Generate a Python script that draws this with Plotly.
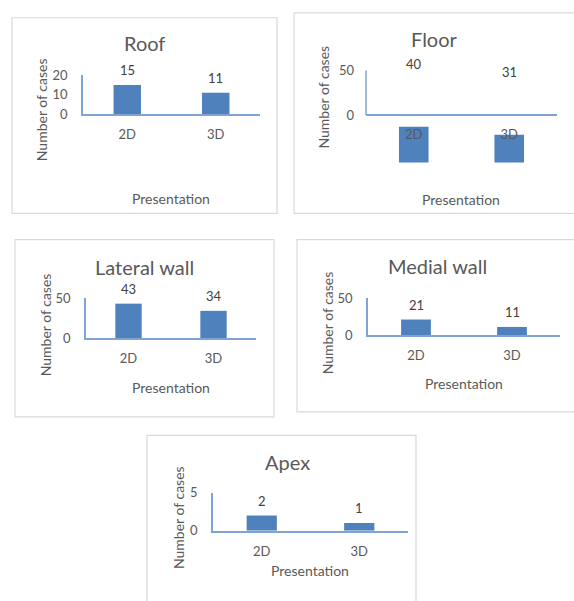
import plotly.graph_objects as go

# ---- data -------------------------------------------------------------
categories = ["2D", "3D"]
roof = [15, 11]
floor = [40, 31]
lateral_wall = [43, 34]
medial_wall = [21, 11]
apex = [2, 1]

panel_titles = ["Roof", "Floor", "Lateral wall", "Medial wall", "Apex"]
panel_values = [roof, floor, lateral_wall, medial_wall, apex]
y_ticks = [[0, 10, 20], [0, 50], [0, 50], [0, 50], [0, 5]]
y_title = "Number of cases"
x_title = "Presentation"

# ---- page geometry (pixels) --------------------------------------------
W, H = 574, 601
# box: panel frame; px: plot x extent; y0/ytop: pixel of value 0 / top tick;
# ymax: top tick value; ymin: lowest value shown; base: bar baseline
panels = [
    dict(box=(12, 10, 277, 211), px=(83, 260), y0=109, ytop=69, ymax=20, ymin=0, base=0,
         title=(144, 36), ytitle=(41, 105), xtitle=(171, 196)),
    dict(box=(294, 5, 590, 211), px=(366, 557), y0=110, ytop=64, ymax=50, ymin=-55, base=-53,
         title=(434, 32), ytitle=(324, 92), xtitle=(461, 197)),
    dict(box=(15, 238, 274, 420), px=(86, 256), y0=339, ytop=298, ymax=50, ymin=0, base=0,
         title=(144, 266), ytitle=(45, 326), xtitle=(171, 390)),
    dict(box=(297, 238, 590, 415), px=(368, 560), y0=336, ytop=298, ymax=50, ymin=0, base=0,
         title=(437, 265), ytitle=(327, 324), xtitle=(464, 386)),
    dict(box=(147, 439, 416, 620), px=(213, 408), y0=537, ytop=498, ymax=5, ymin=0, base=0,
         title=(287, 466), ytitle=(178, 524), xtitle=(310, 578)),
]

BAR = "#4F81BD"
AXIS = "#7FA4D3"
GREY = "#595959"
LABEL = "#404040"
FRAME = "#D9D9D9"
FONT = "Lato"


def fx(x):
    return x / W


def fy(y):
    return 1 - y / H


fig = go.Figure()
annotations = []
shapes = []

for i, (name, vals, ticks, g) in enumerate(zip(panel_titles, panel_values, y_ticks, panels), start=1):
    sfx = "" if i == 1 else str(i)
    xa, ya = "x" + sfx, "y" + sfx

    # pixel scale of the value axis
    ppu = (g["y0"] - g["ytop"]) / g["ymax"]
    ybottom = g["y0"] + (0 - g["ymin"]) * ppu

    fig.add_trace(go.Bar(
        x=categories, y=vals, base=g["base"] if g["base"] else None,
        width=0.31, marker=dict(color=BAR, line=dict(width=0)),
        xaxis=xa, yaxis=ya, showlegend=False, hoverinfo="x+y",
    ))

    shifted = g["ymin"] < 0
    fig.update_layout(**{
        "xaxis" + sfx: dict(
            domain=[fx(g["px"][0]), fx(g["px"][1])],
            range=[-0.5, 1.5], type="category",
            anchor="free" if shifted else ya,
            position=fy(g["y0"]) if shifted else None,
            showline=True, linecolor=AXIS, linewidth=1.5,
            showgrid=False, zeroline=False, ticks="",
            tickfont=dict(family=FONT, size=13, color=GREY),
            ticklabelstandoff=8, fixedrange=True,
        ),
        "yaxis" + sfx: dict(
            domain=[fy(ybottom), fy(g["ytop"])],
            range=[g["ymin"], g["ymax"]],
            anchor=xa, tickvals=ticks,
            showline=not shifted, linecolor=AXIS, linewidth=1.5,
            showgrid=False, zeroline=False, ticks="",
            tickfont=dict(family=FONT, size=13, color=GREY),
            ticklabelstandoff=11, fixedrange=True,
        ),
    })

    if shifted:
        # value axis line only spans the tick range
        shapes.append(dict(type="line", xref=xa + " domain", yref=ya,
                           x0=0, x1=0, y0=0, y1=g["ymax"],
                           line=dict(color=AXIS, width=1.5), layer="above"))

    # panel frame
    bx0, by0, bx1, by1 = g["box"]
    shapes.append(dict(type="rect", xref="paper", yref="paper",
                       x0=fx(bx0), x1=fx(bx1), y0=fy(by1), y1=fy(by0),
                       line=dict(color=FRAME, width=1.2), layer="below"))

    # value labels
    for c, v in zip(categories, vals):
        annotations.append(dict(x=c, y=v, xref=xa, yref=ya, text=str(v),
                                showarrow=False, yanchor="middle", yshift=15,
                                font=dict(family=FONT, size=13, color=LABEL)))

    # chart title and axis titles
    annotations.append(dict(x=fx(g["title"][0]), y=fy(g["title"][1]), xref="paper", yref="paper",
                            text=name, showarrow=False, xanchor="center", yanchor="middle",
                            font=dict(family=FONT, size=20, color=GREY)))
    annotations.append(dict(x=fx(g["ytitle"][0]), y=fy(g["ytitle"][1]), xref="paper", yref="paper",
                            text=y_title, textangle=-90, showarrow=False,
                            xanchor="center", yanchor="middle",
                            font=dict(family=FONT, size=14, color=GREY)))
    annotations.append(dict(x=fx(g["xtitle"][0]), y=fy(g["xtitle"][1]), xref="paper", yref="paper",
                            text=x_title, showarrow=False, xanchor="center", yanchor="middle",
                            font=dict(family=FONT, size=14, color=GREY)))

fig.update_layout(
    width=W, height=H,
    margin=dict(l=0, r=0, t=0, b=0),
    paper_bgcolor="white", plot_bgcolor="rgba(0,0,0,0)",
    annotations=annotations, shapes=shapes,
    font=dict(family=FONT),
)

fig.write_html("out.html", config={"displayModeBar": False})
